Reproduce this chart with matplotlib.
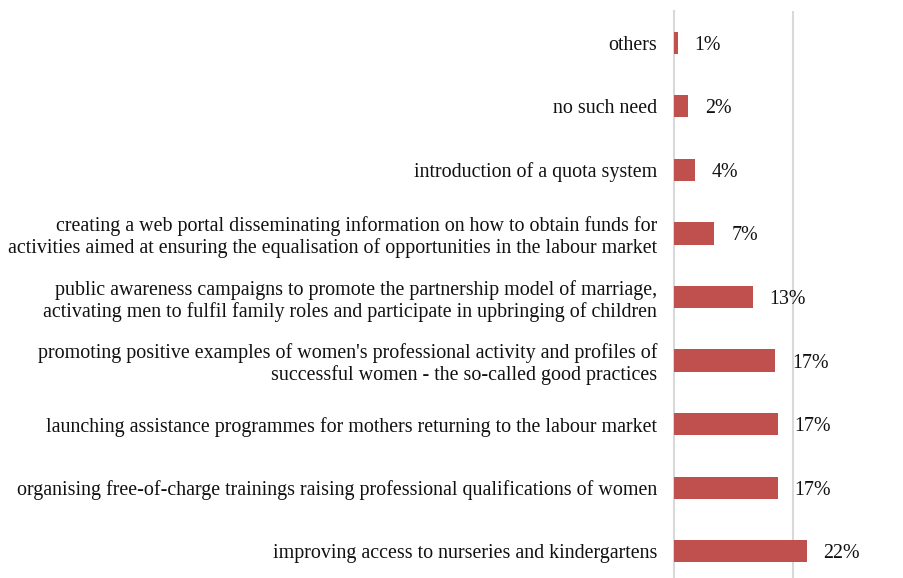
import matplotlib
matplotlib.use("Agg")
import matplotlib.pyplot as plt

# survey answers, bottom to top as drawn
categories = [
    "improving access to nurseries and kindergartens",
    "organising free-of-charge trainings raising professional qualifications of women",
    "launching assistance programmes for mothers returning to the labour market",
    "promoting positive examples of women's professional activity and profiles of\nsuccessful women - the so-called good practices",
    "public awareness campaigns to promote the partnership model of marriage,\nactivating men to fulfil family roles and participate in upbringing of children",
    "creating a web portal disseminating information on how to obtain funds for\nactivities aimed at ensuring the equalisation of opportunities in the labour market",
    "introduction of a quota system",
    "no such need",
    "others",
]
shares = [22.3, 17.4, 17.4, 17.0, 13.2, 6.8, 3.6, 2.4, 0.6]

plt.rcParams["font.family"] = ["Liberation Serif", "DejaVu Serif"]

fig = plt.figure(figsize=(9.04, 5.78), dpi=100)
ax = fig.add_axes([0.7456, -0.0087, 0.1645, 0.9897])

ypos = range(len(categories))
ax.barh(ypos, shares, height=0.35, color="#C0504D", zorder=3)
for y, v in zip(ypos, shares):
    ax.annotate(f"{v:.0f}%", (v, y), xytext=(12, 0), textcoords="offset points",
                ha="left", va="center_baseline", fontsize=14.4, color="#111111",
                annotation_clip=False)

ax.set_xlim(0, 25)
ax.set_ylim(-0.5, len(categories) - 0.5)
ax.set_xticks([20])
ax.xaxis.grid(True, color="#D9D9D9", linewidth=1.5, zorder=0)
ax.tick_params(axis="x", length=0, labelbottom=False)
ax.set_yticks(list(ypos))
ax.set_yticklabels(categories, fontsize=14.4, color="#111111", linespacing=1.15)
ax.tick_params(axis="y", length=0, pad=12)

for side in ["top", "right", "bottom"]:
    ax.spines[side].set_visible(False)
ax.spines["left"].set_color("#D9D9D9")
ax.spines["left"].set_linewidth(1.5)

fig.savefig("out.png", dpi=100)
